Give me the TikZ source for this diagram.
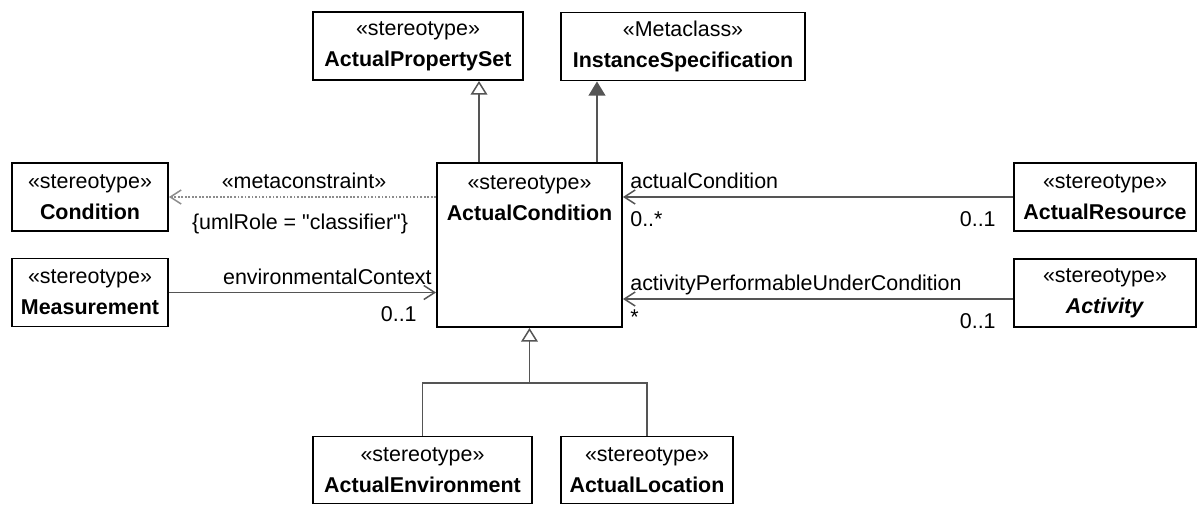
\documentclass[tikz,border=0pt]{standalone}
\usepackage{fontspec}
\setmainfont{Liberation Sans}[Ligatures=TeXOff]
\usetikzlibrary{arrows.meta}
\definecolor{linegray}{HTML}{555555}
\definecolor{dotgray}{HTML}{8C8C8C}

\begin{document}
\begin{tikzpicture}[x=0.02cm, y=-0.02cm,
	boxtext/.style={align=center, inner sep=0pt, font=\fontsize{12.2pt}{17.6pt}\selectfont},
	box/.style={boxtext, draw, line width=1.1pt, minimum height=1.36cm},
	lbl/.style={inner sep=0pt, font=\fontsize{12.2pt}{14pt}\selectfont},
	assoc/.style={linegray, line width=0.85pt, -{Straight Barb[length=6.2pt,width=8pt]}},
	gen/.style={linegray, line width=0.85pt, -{Triangle[open,length=7.8pt,width=9.5pt,fill=white]}},
	ext/.style={linegray, line width=0.85pt, -{Triangle[length=8pt,width=9.5pt]}}]
	\useasboundingbox (0,0) rectangle (1197,504);

	\node[box, minimum width=4.2cm] (aps) at (418,46) {«stereotype»\\\textbf{ActualPropertySet}};
	\node[box, minimum width=4.88cm] (is) at (683,46.5) {«Metaclass»\\\textbf{InstanceSpecification}};

	\node[box, minimum width=3.12cm] (cond) at (90,197) {«stereotype»\\\textbf{Condition}};
	\node[box, minimum width=3.12cm] (meas) at (90,292.5) {«stereotype»\\\textbf{Measurement}};

	\node[box, minimum width=3.7cm, minimum height=3.28cm] (ac) at (529.5,245) {};
	\node[boxtext] (actitle) at (529.5,198) {«stereotype»\\\textbf{ActualCondition}};

	\node[box, minimum width=3.64cm] (ar) at (1105,197) {«stereotype»\\\textbf{ActualResource}};
	\node[box, minimum width=3.64cm] (act) at (1105,293) {«stereotype»\\\textbf{\textit{Activity}}};

	\node[box, minimum width=4.38cm, minimum height=1.34cm] (ae) at (422.5,470) {«stereotype»\\\textbf{ActualEnvironment}};
	\node[box, minimum width=3.44cm, minimum height=1.34cm] (al) at (647,470) {«stereotype»\\\textbf{ActualLocation}};

	\coordinate (g1) at ([xshift=-1.01cm]ac.north);
	\coordinate (g2) at ([xshift=1.35cm]ac.north);
	\coordinate (a0) at ([yshift=-0.12cm]act.west);
	\coordinate (fork) at (529.5,383);

	\draw[gen] (g1) -- (g1 |- aps.south);
	\draw[ext] (g2) -- (g2 |- is.south);

	\draw[assoc, dotgray, dash pattern=on 1pt off 1pt] (cond.east -| ac.west) -- (cond.east);
	\draw[assoc] (meas.east) -- (meas.east -| ac.west);
	\draw[assoc] (ar.west) -- (ar.west -| ac.east);
	\draw[assoc] (a0) -- (a0 -| ac.east);

	\draw[gen] (ae.north) |- (fork) -- (ac.south);
	\draw[linegray, line width=0.85pt] (al.north) |- (fork);

	\node[lbl, anchor=base] (mc) at (304,188) {«metaconstraint»};
	\node[lbl, anchor=base] (role) at (300,229) {\{umlRole = "classifier"\}};
	\node[lbl, anchor=base east] (env) at (432,284) {environmentalContext};
	\node[lbl, anchor=base east] (envm) at (417,321) {0..1};
	\node[lbl, anchor=base west] (acn) at (630,188) {actualCondition};
	\node[lbl, anchor=base west] (acm) at (630,226) {0..*};
	\node[lbl, anchor=base east] (arm) at (996,226) {0..1};
	\node[lbl, anchor=base west] (apn) at (630,290) {activityPerformableUnderCondition};
	\node[lbl, anchor=base west] (apm) at (630,324) {*};
	\node[lbl, anchor=base east] (actm) at (996,328) {0..1};
\end{tikzpicture}
\end{document}
